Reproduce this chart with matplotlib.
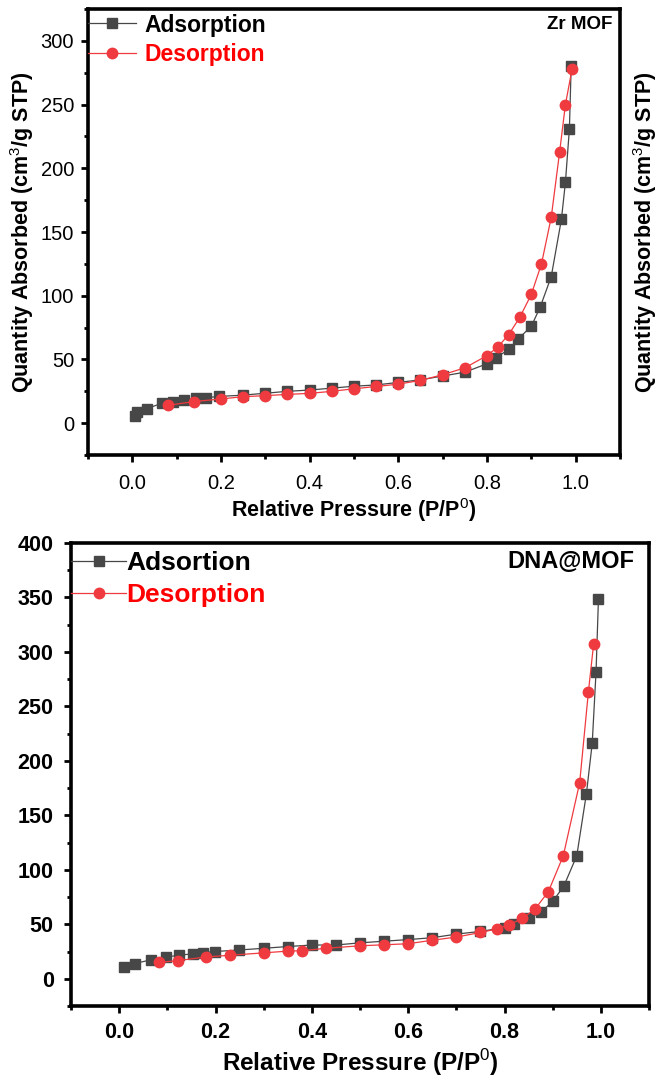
import matplotlib
matplotlib.use("Agg")
import matplotlib.pyplot as plt
from matplotlib.ticker import MultipleLocator

plt.rcParams['font.family'] = ['Liberation Sans', 'DejaVu Sans']
plt.rcParams['mathtext.fontset'] = 'custom'
plt.rcParams['mathtext.rm'] = 'Liberation Sans'
plt.rcParams['mathtext.bf'] = 'Liberation Sans:bold'

# Zr MOF isotherm
zr_ads_p = [0.005, 0.011, 0.033, 0.066, 0.092, 0.117, 0.144, 0.167, 0.196, 0.25,
            0.30, 0.35, 0.40, 0.45, 0.50, 0.55, 0.60, 0.65, 0.70, 0.75,
            0.80, 0.82, 0.85, 0.87, 0.90, 0.92, 0.945, 0.968, 0.977, 0.986, 0.99]
zr_ads_q = [6, 9, 11.5, 15.5, 17, 18, 19.5, 20, 21, 22,
            23.5, 25, 26, 27.5, 29, 30, 32, 34, 37, 40,
            46.6, 51.4, 58, 66, 76, 91, 115, 160, 189, 231, 280]
zr_des_p = [0.992, 0.977, 0.964, 0.945, 0.923, 0.90, 0.874, 0.849, 0.825, 0.80,
            0.75, 0.70, 0.65, 0.60, 0.55, 0.50, 0.45, 0.40, 0.35, 0.30,
            0.25, 0.20, 0.14, 0.08]
zr_des_q = [278, 250, 213, 161.5, 125, 101, 83, 69.5, 60, 53,
            43.4, 38, 33.6, 30.6, 28.8, 27, 25, 23.4, 22.6, 21.6,
            20.8, 19, 17, 14]

# DNA@MOF isotherm
dna_ads_p = [0.009, 0.032, 0.066, 0.098, 0.124, 0.154, 0.174, 0.198, 0.248, 0.30,
             0.35, 0.40, 0.45, 0.50, 0.55, 0.60, 0.65, 0.70, 0.75, 0.80,
             0.82, 0.85, 0.875, 0.90, 0.923, 0.95, 0.97, 0.982, 0.99, 0.995]
dna_ads_q = [11, 14, 17.4, 20, 21.6, 23, 24, 25, 26.4, 28,
             29.6, 31, 31, 33, 34.5, 36, 37.7, 41, 43.5, 47,
             50.5, 55.4, 61, 71, 85, 113, 170, 216, 282, 349]
dna_des_p = [0.985, 0.974, 0.956, 0.922, 0.891, 0.864, 0.837, 0.81, 0.784, 0.75,
             0.70, 0.65, 0.60, 0.55, 0.50, 0.43, 0.38, 0.35, 0.30, 0.23,
             0.18, 0.122, 0.082]
dna_des_q = [307.5, 263, 180, 113, 80, 64.4, 55.4, 49.6, 45.7, 42.5,
             38.3, 35.4, 32.2, 31.2, 30.3, 28, 25.8, 25.4, 23.8, 21.6,
             20, 16.7, 15]

ads_color = '#474747'
des_color = '#ef3a3f'
ylabel = r'Quantity Absorbed (cm$^{\mathrm{3}}$/g STP)'
xlabel = r'Relative Pressure (P/P$^{\mathrm{0}}$)'


def style_axes(ax, tick_size, tick_weight, xpad, ypad):
    for sp in ax.spines.values():
        sp.set_linewidth(2.6)
    ax.set_xlim(-0.1, 1.1)
    ax.xaxis.set_major_locator(MultipleLocator(0.2))
    ax.xaxis.set_minor_locator(MultipleLocator(0.1))
    ax.yaxis.set_major_locator(MultipleLocator(50))
    ax.yaxis.set_minor_locator(MultipleLocator(25))
    ax.tick_params(which='major', direction='out', length=5, width=2,
                   top=False, right=False)
    ax.tick_params(which='minor', direction='out', length=3, width=2,
                   top=False, right=False)
    ax.tick_params(axis='x', which='major', pad=xpad)
    ax.tick_params(axis='y', which='major', pad=ypad)
    for lab in ax.get_xticklabels() + ax.get_yticklabels():
        lab.set_fontsize(tick_size)
        lab.set_fontweight(tick_weight)


fig = plt.figure(figsize=(6.6, 10.77), dpi=100)

# top panel
ax1 = fig.add_axes([0.1333, 0.5775, 0.806, 0.4141])
ax1.plot(zr_ads_p, zr_ads_q, color=ads_color, lw=0.9, marker='s', ms=6.5,
         mfc=ads_color, mec=ads_color, label='Adsorption')
ax1.plot(zr_des_p, zr_des_q, color=des_color, lw=0.9, marker='o', ms=7.5,
         mfc=des_color, mec=des_color, label='Desorption')
ax1.set_ylim(-25, 325)
style_axes(ax1, 14.5, 'normal', 8.5, 5)
ax1.set_xlabel(xlabel, fontsize=15.5, fontweight='bold')
ax1.xaxis.set_label_coords(0.5, -0.123)
ax1.xaxis.label.set_va('center')
ax1.set_ylabel(ylabel, fontsize=15.5, fontweight='bold')
ax1.yaxis.set_label_coords(-0.124, 0.5)
ax1.yaxis.label.set_va('center')
ax1.text(1.047, 0.5, ylabel, transform=ax1.transAxes, rotation=90,
         ha='center', va='center', fontsize=15.5, fontweight='bold')
ax1.text(0.985, 0.965, 'Zr MOF', transform=ax1.transAxes, ha='right',
         va='center', fontsize=13.5, fontweight='bold')
ax1.legend(loc='upper left', bbox_to_anchor=(0, 0.99), borderaxespad=0,
           borderpad=0, frameon=False, handlelength=2.1, handletextpad=0.35,
           labelspacing=0.3, prop={'size': 16.5, 'weight': 'bold'},
           labelcolor=['black', 'red'])

# bottom panel
ax2 = fig.add_axes([0.1076, 0.0659, 0.8758, 0.4299])
ax2.plot(dna_ads_p, dna_ads_q, color=ads_color, lw=0.9, marker='s', ms=6.5,
         mfc=ads_color, mec=ads_color, label='Adsortion')
ax2.plot(dna_des_p, dna_des_q, color=des_color, lw=0.9, marker='o', ms=7.5,
         mfc=des_color, mec=des_color, label='Desorption')
ax2.set_ylim(-25, 400)
style_axes(ax2, 15.5, 'bold', 6.5, 7.5)
ax2.set_xlabel(xlabel, fontsize=17.5, fontweight='bold')
ax2.xaxis.set_label_coords(0.5, -0.122)
ax2.xaxis.label.set_va('center')
ax2.text(0.975, 0.96, 'DNA@MOF', transform=ax2.transAxes, ha='right',
         va='center', fontsize=17, fontweight='bold')
ax2.legend(loc='upper left', bbox_to_anchor=(0, 0.983), borderaxespad=0,
           borderpad=0, frameon=False, handlelength=2.1, handletextpad=0.0,
           labelspacing=0.3, prop={'size': 19, 'weight': 'bold'},
           labelcolor=['black', 'red'])

fig.savefig('out.png', dpi=100)
